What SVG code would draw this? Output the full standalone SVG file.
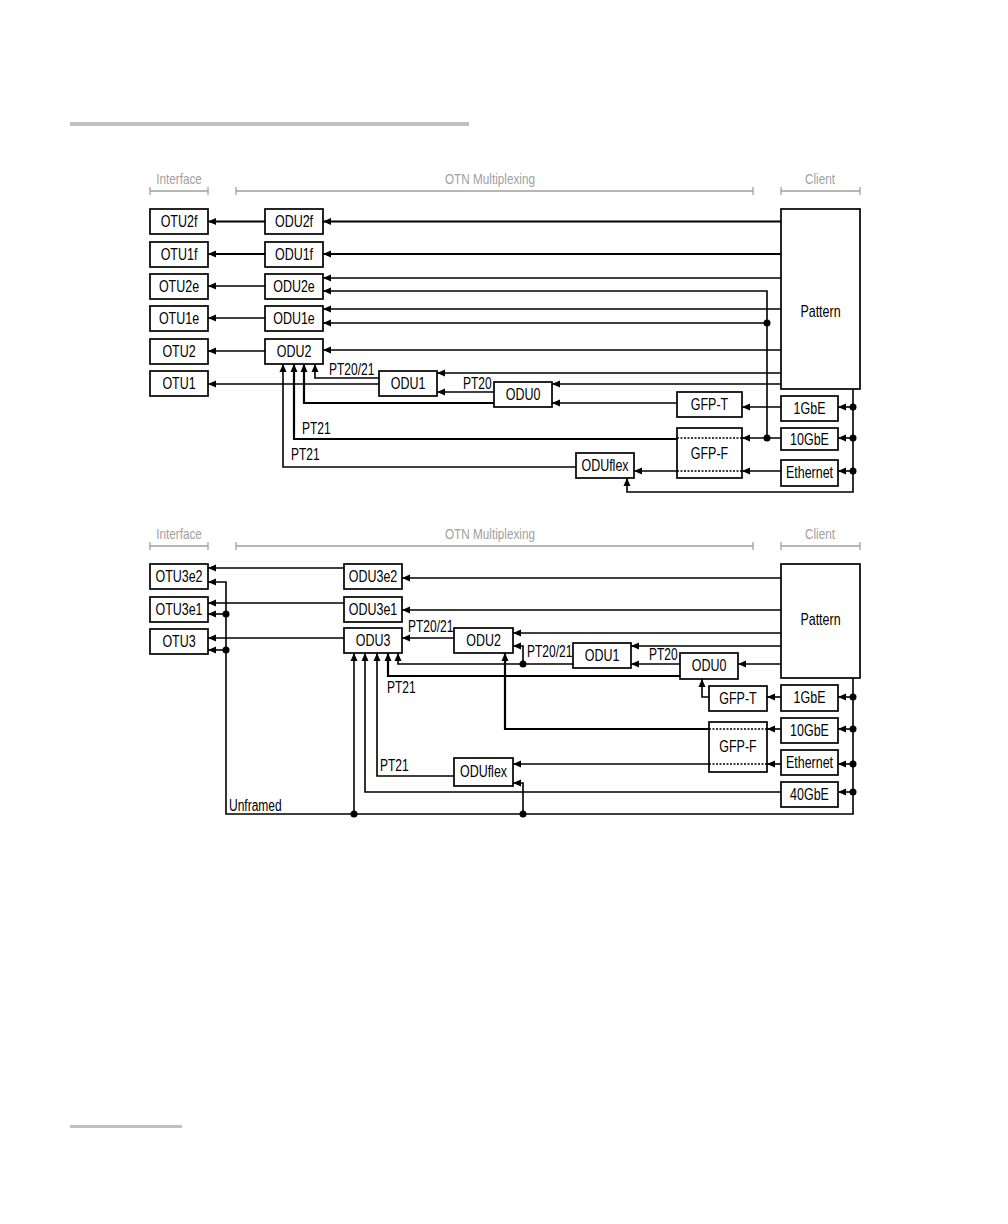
<svg xmlns="http://www.w3.org/2000/svg" width="1008" height="1224" viewBox="0 0 1008 1224">
<defs>
<marker id="a" markerUnits="userSpaceOnUse" markerWidth="8" markerHeight="8" refX="8" refY="4" orient="auto"><path d="M0,0.5 L8,4 L0,7.5 z" fill="#000"/></marker>
<style>
.b{fill:#fff;stroke:#000;stroke-width:1.7}
.t{font-family:"Liberation Sans",Arial,sans-serif;font-size:16px;fill:#000;text-anchor:middle}
.l{font-family:"Liberation Sans",Arial,sans-serif;font-size:16px;fill:#000;stroke:none}
.h{font-family:"Liberation Sans",Arial,sans-serif;font-size:14px;fill:#a0a0a0;text-anchor:middle}
.br{stroke:#a0a0a0;stroke-width:1.3;fill:none}
.c{fill:none;stroke:#000;stroke-width:1.6}
.c path{marker-end:url(#a)}
.k{stroke-width:2.2}
.d{stroke-dasharray:2,1.5;stroke-width:1.6;fill:none;stroke:#000}
.dot{fill:#000;stroke:none}
</style>
</defs>
<rect x="70" y="122" width="399" height="4" fill="#c0c0c0"/>
<rect x="70" y="1125" width="112" height="3" fill="#c0c0c0"/>

<!-- ================= TOP DIAGRAM ================= -->
<g id="hdr1">
<text class="h" transform="translate(179,184) scale(0.84,1)">Interface</text>
<path class="br" d="M150,191 H208 M150,187 V195 M208,187 V195"/>
<text class="h" transform="translate(490,184) scale(0.84,1)">OTN Multiplexing</text>
<path class="br" d="M236,191 H753 M236,187 V195 M753,187 V195"/>
<text class="h" transform="translate(820,184) scale(0.84,1)">Client</text>
<path class="br" d="M781,191 H860 M781,187 V195 M860,187 V195"/>
</g>

<g id="conn1" class="c">
<path class="k" d="M265,221.5 H208"/>
<path class="k" d="M781,221.5 H323"/>
<path class="k" d="M265,254 H208"/>
<path class="k" d="M781,254 H323"/>
<path d="M265,286 H208"/>
<path d="M781,278 H323"/>
<path d="M767,438 V291 H323"/>
<path d="M265,318 H208"/>
<path d="M781,309 H323"/>
<path d="M767,323 H323"/>
<path d="M265,351 H208"/>
<path d="M781,350 H323"/>
<path d="M379,384 H208"/>
<path d="M781,373 H437"/>
<path d="M494,392 H437"/>
<path d="M781,384 H552"/>
<path d="M677,403 H552"/>
<path d="M781,407 H742"/>
<path d="M379,378 H315 V364"/>
<path class="k" d="M494,403 H304 V364"/>
<path class="k" d="M677,439 H294 V364"/>
<path d="M576,467 H283 V364"/>
<path d="M781,438 H742"/>
<path d="M781,471 H742"/>
<path d="M677,471 H634"/>
<path d="M853,389 V492 H627 V478"/>
<path d="M853,407 H838"/>
<path d="M853,438 H838"/>
<path d="M853,471 H838"/>
<line class="d" x1="742" y1="438" x2="677" y2="438"/>
<line class="d" x1="742" y1="471" x2="677" y2="471"/>
<circle class="dot" cx="767" cy="323" r="3.5"/>
<circle class="dot" cx="767" cy="438" r="3.5"/>
<circle class="dot" cx="853" cy="407" r="3.5"/>
<circle class="dot" cx="853" cy="438" r="3.5"/>
<circle class="dot" cx="853" cy="471" r="3.5"/>
<text class="l" transform="translate(329,375) scale(0.75,1)">PT20/21</text>
<text class="l" transform="translate(463,389) scale(0.75,1)">PT20</text>
<text class="l" transform="translate(302,434) scale(0.75,1)">PT21</text>
<text class="l" transform="translate(291,460) scale(0.75,1)">PT21</text>
</g>

<g id="otu2f"><rect class="b" x="150" y="209" width="58" height="25"/><text class="t" transform="translate(179,227) scale(0.78,1)">OTU2f</text></g>
<g id="otu1f"><rect class="b" x="150" y="242" width="58" height="25"/><text class="t" transform="translate(179,260) scale(0.78,1)">OTU1f</text></g>
<g id="otu2e"><rect class="b" x="150" y="274" width="58" height="25"/><text class="t" transform="translate(179,292) scale(0.78,1)">OTU2e</text></g>
<g id="otu1e"><rect class="b" x="150" y="306" width="58" height="25"/><text class="t" transform="translate(179,324) scale(0.78,1)">OTU1e</text></g>
<g id="otu2"><rect class="b" x="150" y="339" width="58" height="25"/><text class="t" transform="translate(179,357) scale(0.78,1)">OTU2</text></g>
<g id="otu1"><rect class="b" x="150" y="371" width="58" height="25"/><text class="t" transform="translate(179,389) scale(0.78,1)">OTU1</text></g>
<g id="odu2f"><rect class="b" x="265" y="209" width="58" height="25"/><text class="t" transform="translate(294,227) scale(0.78,1)">ODU2f</text></g>
<g id="odu1f"><rect class="b" x="265" y="242" width="58" height="25"/><text class="t" transform="translate(294,260) scale(0.78,1)">ODU1f</text></g>
<g id="odu2e"><rect class="b" x="265" y="274" width="58" height="25"/><text class="t" transform="translate(294,292) scale(0.78,1)">ODU2e</text></g>
<g id="odu1e"><rect class="b" x="265" y="306" width="58" height="25"/><text class="t" transform="translate(294,324) scale(0.78,1)">ODU1e</text></g>
<g id="odu2"><rect class="b" x="265" y="339" width="58" height="25"/><text class="t" transform="translate(294,357) scale(0.78,1)">ODU2</text></g>
<g id="odu1"><rect class="b" x="379" y="371" width="58" height="25"/><text class="t" transform="translate(408,389) scale(0.78,1)">ODU1</text></g>
<g id="odu0"><rect class="b" x="494" y="382" width="58" height="25"/><text class="t" transform="translate(523,400) scale(0.78,1)">ODU0</text></g>
<g id="gfpt"><rect class="b" x="677" y="392" width="65" height="25"/><text class="t" transform="translate(709.5,410) scale(0.78,1)">GFP-T</text></g>
<g id="gfpf"><rect class="b" x="677" y="428" width="65" height="50" style="fill:none"/><text class="t" transform="translate(709.5,459) scale(0.78,1)">GFP-F</text></g>
<g id="oduflex"><rect class="b" x="576" y="453" width="58" height="25"/><text class="t" transform="translate(605,471) scale(0.78,1)">ODUflex</text></g>
<g id="pattern"><rect class="b" x="781" y="209" width="79" height="180"/><text class="t" transform="translate(820.5,317) scale(0.78,1)">Pattern</text></g>
<g id="g1gbe"><rect class="b" x="781" y="396" width="57" height="25"/><text class="t" transform="translate(809.5,414) scale(0.78,1)">1GbE</text></g>
<g id="g10gbe"><rect class="b" x="781" y="428" width="57" height="22"/><text class="t" transform="translate(809.5,445) scale(0.78,1)">10GbE</text></g>
<g id="eth"><rect class="b" x="781" y="460" width="57" height="26"/><text class="t" transform="translate(809.5,478) scale(0.78,1)">Ethernet</text></g>

<!-- ================= BOTTOM DIAGRAM ================= -->
<g id="hdr2">
<text class="h" transform="translate(179,539) scale(0.84,1)">Interface</text>
<path class="br" d="M150,546 H208 M150,542 V550 M208,542 V550"/>
<text class="h" transform="translate(490,539) scale(0.84,1)">OTN Multiplexing</text>
<path class="br" d="M236,546 H753 M236,542 V550 M753,542 V550"/>
<text class="h" transform="translate(820,539) scale(0.84,1)">Client</text>
<path class="br" d="M781,546 H860 M781,542 V550 M860,542 V550"/>
</g>

<g id="conn2" class="c">
<path d="M344,568 H208"/>
<path d="M853,678 V814 H226 V582 H208"/>
<path d="M226,614 H208"/>
<path d="M344,603 H208"/>
<path d="M344,638 H208"/>
<path d="M226,650 H208"/>
<path d="M781,578 H402"/>
<path d="M781,610 H402"/>
<path d="M781,633 H513"/>
<path d="M781,646 H631"/>
<path d="M781,664 H738"/>
<path d="M680,664 H631"/>
<path d="M454,638 H402"/>
<path d="M573,664 H398 V653"/>
<path d="M523,664 V646 H513"/>
<path class="k" d="M680,676 H388 V653"/>
<path d="M781,729 H767"/>
<path class="k" d="M709,729 H505 V653"/>
<path d="M781,764 H767"/>
<path d="M709,764 H513"/>
<path d="M454,776 H377 V653"/>
<path d="M781,792 H365 V653"/>
<path d="M354,814 V653"/>
<path d="M523,814 V783 H513"/>
<path d="M709,697 H702 V679"/>
<path d="M781,697 H767"/>
<path d="M853,697 H838"/>
<path d="M853,729 H838"/>
<path d="M853,764 H838"/>
<path d="M853,792 H838"/>
<line class="d" x1="767" y1="729" x2="709" y2="729"/>
<line class="d" x1="767" y1="764" x2="709" y2="764"/>
<circle class="dot" cx="226" cy="614" r="3.5"/>
<circle class="dot" cx="226" cy="650" r="3.5"/>
<circle class="dot" cx="523" cy="664" r="3.5"/>
<circle class="dot" cx="354" cy="814" r="3.5"/>
<circle class="dot" cx="523" cy="814" r="3.5"/>
<circle class="dot" cx="853" cy="697" r="3.5"/>
<circle class="dot" cx="853" cy="729" r="3.5"/>
<circle class="dot" cx="853" cy="764" r="3.5"/>
<circle class="dot" cx="853" cy="792" r="3.5"/>
<text class="l" transform="translate(408,632) scale(0.75,1)">PT20/21</text>
<text class="l" transform="translate(527,657) scale(0.75,1)">PT20/21</text>
<text class="l" transform="translate(649,660) scale(0.75,1)">PT20</text>
<text class="l" transform="translate(387,693) scale(0.75,1)">PT21</text>
<text class="l" transform="translate(380,771) scale(0.75,1)">PT21</text>
<text class="l" transform="translate(229,811) scale(0.75,1)">Unframed</text>
</g>

<g id="otu3e2"><rect class="b" x="150" y="564" width="58" height="25"/><text class="t" transform="translate(179,582) scale(0.78,1)">OTU3e2</text></g>
<g id="otu3e1"><rect class="b" x="150" y="597" width="58" height="25"/><text class="t" transform="translate(179,615) scale(0.78,1)">OTU3e1</text></g>
<g id="otu3"><rect class="b" x="150" y="629" width="58" height="25"/><text class="t" transform="translate(179,647) scale(0.78,1)">OTU3</text></g>
<g id="odu3e2"><rect class="b" x="344" y="564" width="58" height="25"/><text class="t" transform="translate(373,582) scale(0.78,1)">ODU3e2</text></g>
<g id="odu3e1"><rect class="b" x="344" y="597" width="58" height="25"/><text class="t" transform="translate(373,615) scale(0.78,1)">ODU3e1</text></g>
<g id="odu3"><rect class="b" x="344" y="628" width="58" height="25"/><text class="t" transform="translate(373,646) scale(0.78,1)">ODU3</text></g>
<g id="odu2b"><rect class="b" x="454" y="628" width="59" height="25"/><text class="t" transform="translate(483.5,646) scale(0.78,1)">ODU2</text></g>
<g id="odu1b"><rect class="b" x="573" y="643" width="58" height="25"/><text class="t" transform="translate(602,661) scale(0.78,1)">ODU1</text></g>
<g id="odu0b"><rect class="b" x="680" y="653" width="58" height="26"/><text class="t" transform="translate(709,671) scale(0.78,1)">ODU0</text></g>
<g id="pattern2"><rect class="b" x="781" y="564" width="79" height="114"/><text class="t" transform="translate(820.5,625) scale(0.78,1)">Pattern</text></g>
<g id="gfpt2"><rect class="b" x="709" y="686" width="58" height="25"/><text class="t" transform="translate(738,704) scale(0.78,1)">GFP-T</text></g>
<g id="gfpf2"><rect class="b" x="709" y="722" width="58" height="50" style="fill:none"/><text class="t" transform="translate(738,752) scale(0.78,1)">GFP-F</text></g>
<g id="oduflex2"><rect class="b" x="454" y="758" width="59" height="28"/><text class="t" transform="translate(483.5,777) scale(0.78,1)">ODUflex</text></g>
<g id="b1gbe"><rect class="b" x="781" y="685" width="57" height="26"/><text class="t" transform="translate(809.5,703) scale(0.78,1)">1GbE</text></g>
<g id="b10gbe"><rect class="b" x="781" y="718" width="57" height="25"/><text class="t" transform="translate(809.5,736) scale(0.78,1)">10GbE</text></g>
<g id="beth"><rect class="b" x="781" y="750" width="57" height="25"/><text class="t" transform="translate(809.5,768) scale(0.78,1)">Ethernet</text></g>
<g id="b40gbe"><rect class="b" x="781" y="782" width="57" height="25"/><text class="t" transform="translate(809.5,800) scale(0.78,1)">40GbE</text></g>
</svg>
